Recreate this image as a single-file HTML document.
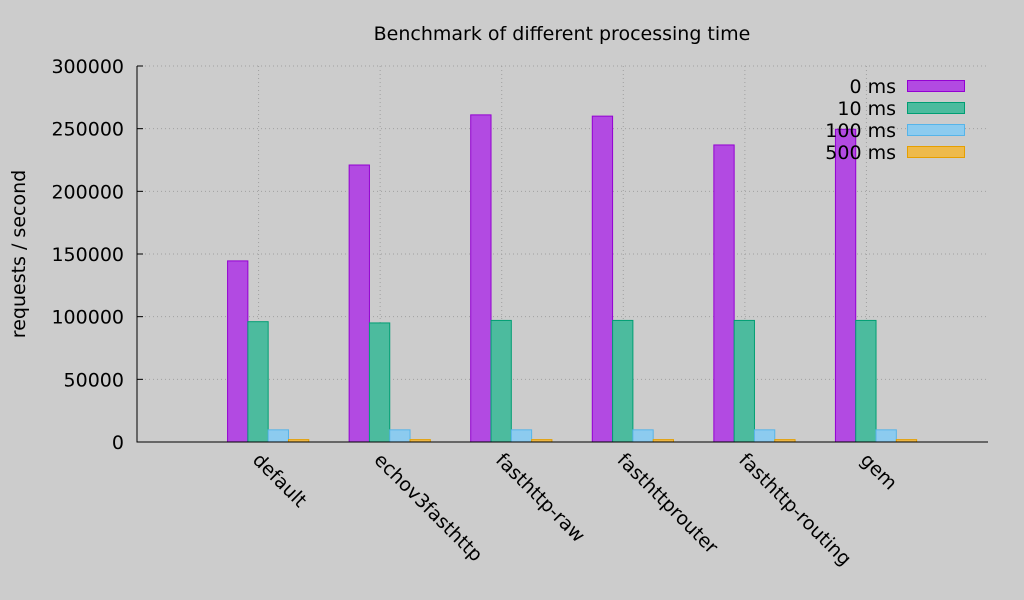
<!DOCTYPE html>
<html><head><meta charset="utf-8"><style>
html,body{margin:0;padding:0;background:#cccccc;}
svg{display:block;font-family:"DejaVu Sans","Liberation Sans",sans-serif;}
</style></head><body>
<svg id="chart" width="1024" height="600" xmlns="http://www.w3.org/2000/svg">
<rect width="1024" height="600" fill="#cccccc"/>
<text x="562" y="40" font-size="19" text-anchor="middle" fill="#000">Benchmark of different processing time</text>
<text transform="translate(25,254) rotate(-90)" font-size="19" text-anchor="middle" fill="#000">requests / second</text>
<g id="grid"></g><g id="bars"></g><g id="axes"></g><g id="legend"></g>
</svg>
<script>
const categories = ["default","echov3fasthttp","fasthttp-raw","fasthttprouter","fasthttp-routing","gem"];
const series0 = [144500,221000,261000,260000,237000,249500];
const series10 = [96000,95000,97000,97000,97000,97000];
const series100 = [9700,9700,9700,9700,9700,9700];
const series500 = [1900,1900,1900,1900,1900,1900];
const seriesNames = ["0 ms","10 ms","100 ms","500 ms"];
const yTicks = [0,50000,100000,150000,200000,250000,300000];

const NS="http://www.w3.org/2000/svg";
const L=137,R=988,T=66,B=442;
const yMax=300000;
const xs=i=>L+(i+1)*(R-L)/7;
const ys=v=>B-v/yMax*(B-T);
const fills=["#b24ae2","#4cbb9e","#8ccbef","#eeba4c"];
const strokes=["#9400d3","#009e73","#56b4e9","#e69f00"];
const all=[series0,series10,series100,series500];
function mk(tag,attrs,parent){const e=document.createElementNS(NS,tag);for(const k in attrs)e.setAttribute(k,attrs[k]);parent.appendChild(e);return e;}
const grid=document.getElementById('grid'),bars=document.getElementById('bars'),axes=document.getElementById('axes'),leg=document.getElementById('legend');
yTicks.forEach(v=>{
  const y=ys(v);
  if(v>0){const g=mk('line',{x1:L,x2:R,y1:y,y2:y,stroke:'#a0a0a0','stroke-dasharray':'1,3'},grid);
  
  }
  const t=mk('line',{x1:L,x2:L+6,y1:y,y2:y,stroke:'#000'},axes);
  
  
  const tx=mk('text',{x:L-13,y:y+7,'font-size':19,'text-anchor':'end',fill:'#000'},axes);
  tx.textContent=v;
  
  
});
categories.forEach((c,i)=>{
  const x=xs(i);
  const g=mk('line',{x1:x,x2:x,y1:T,y2:B,stroke:'#a0a0a0','stroke-dasharray':'1,3'},grid);
  
  
  const bw=(R-L)/7*0.167;
  all.forEach((s,k)=>{
    const x0=x-(R-L)/7*0.255+k*bw;
    const y=ys(s[i]);
    const r=mk('rect',{x:x0,y:y,width:bw,height:B-y,fill:fills[k],stroke:strokes[k],'stroke-width':1},bars);
    
    
  });
  const tx=mk('text',{x:0,y:0,'font-size':19,fill:'#000',transform:`translate(${x-7},${B+19}) rotate(45)`},axes);
  tx.textContent=c;
  
  
});
const ax=mk('path',{d:`M${L},${T}V${B}H${R}`,stroke:'#000',fill:'none'},axes);


seriesNames.forEach((n,k)=>{
  const y=86+k*22;
  const r=mk('rect',{x:907.5,y:y-5.5,width:57,height:11,fill:fills[k],stroke:strokes[k]},leg);
  
  
  const t=mk('text',{x:896,y:y+7,'font-size':19,'text-anchor':'end',fill:'#000'},leg);
  t.textContent=n;
  
  
});
</script>
</body></html>
